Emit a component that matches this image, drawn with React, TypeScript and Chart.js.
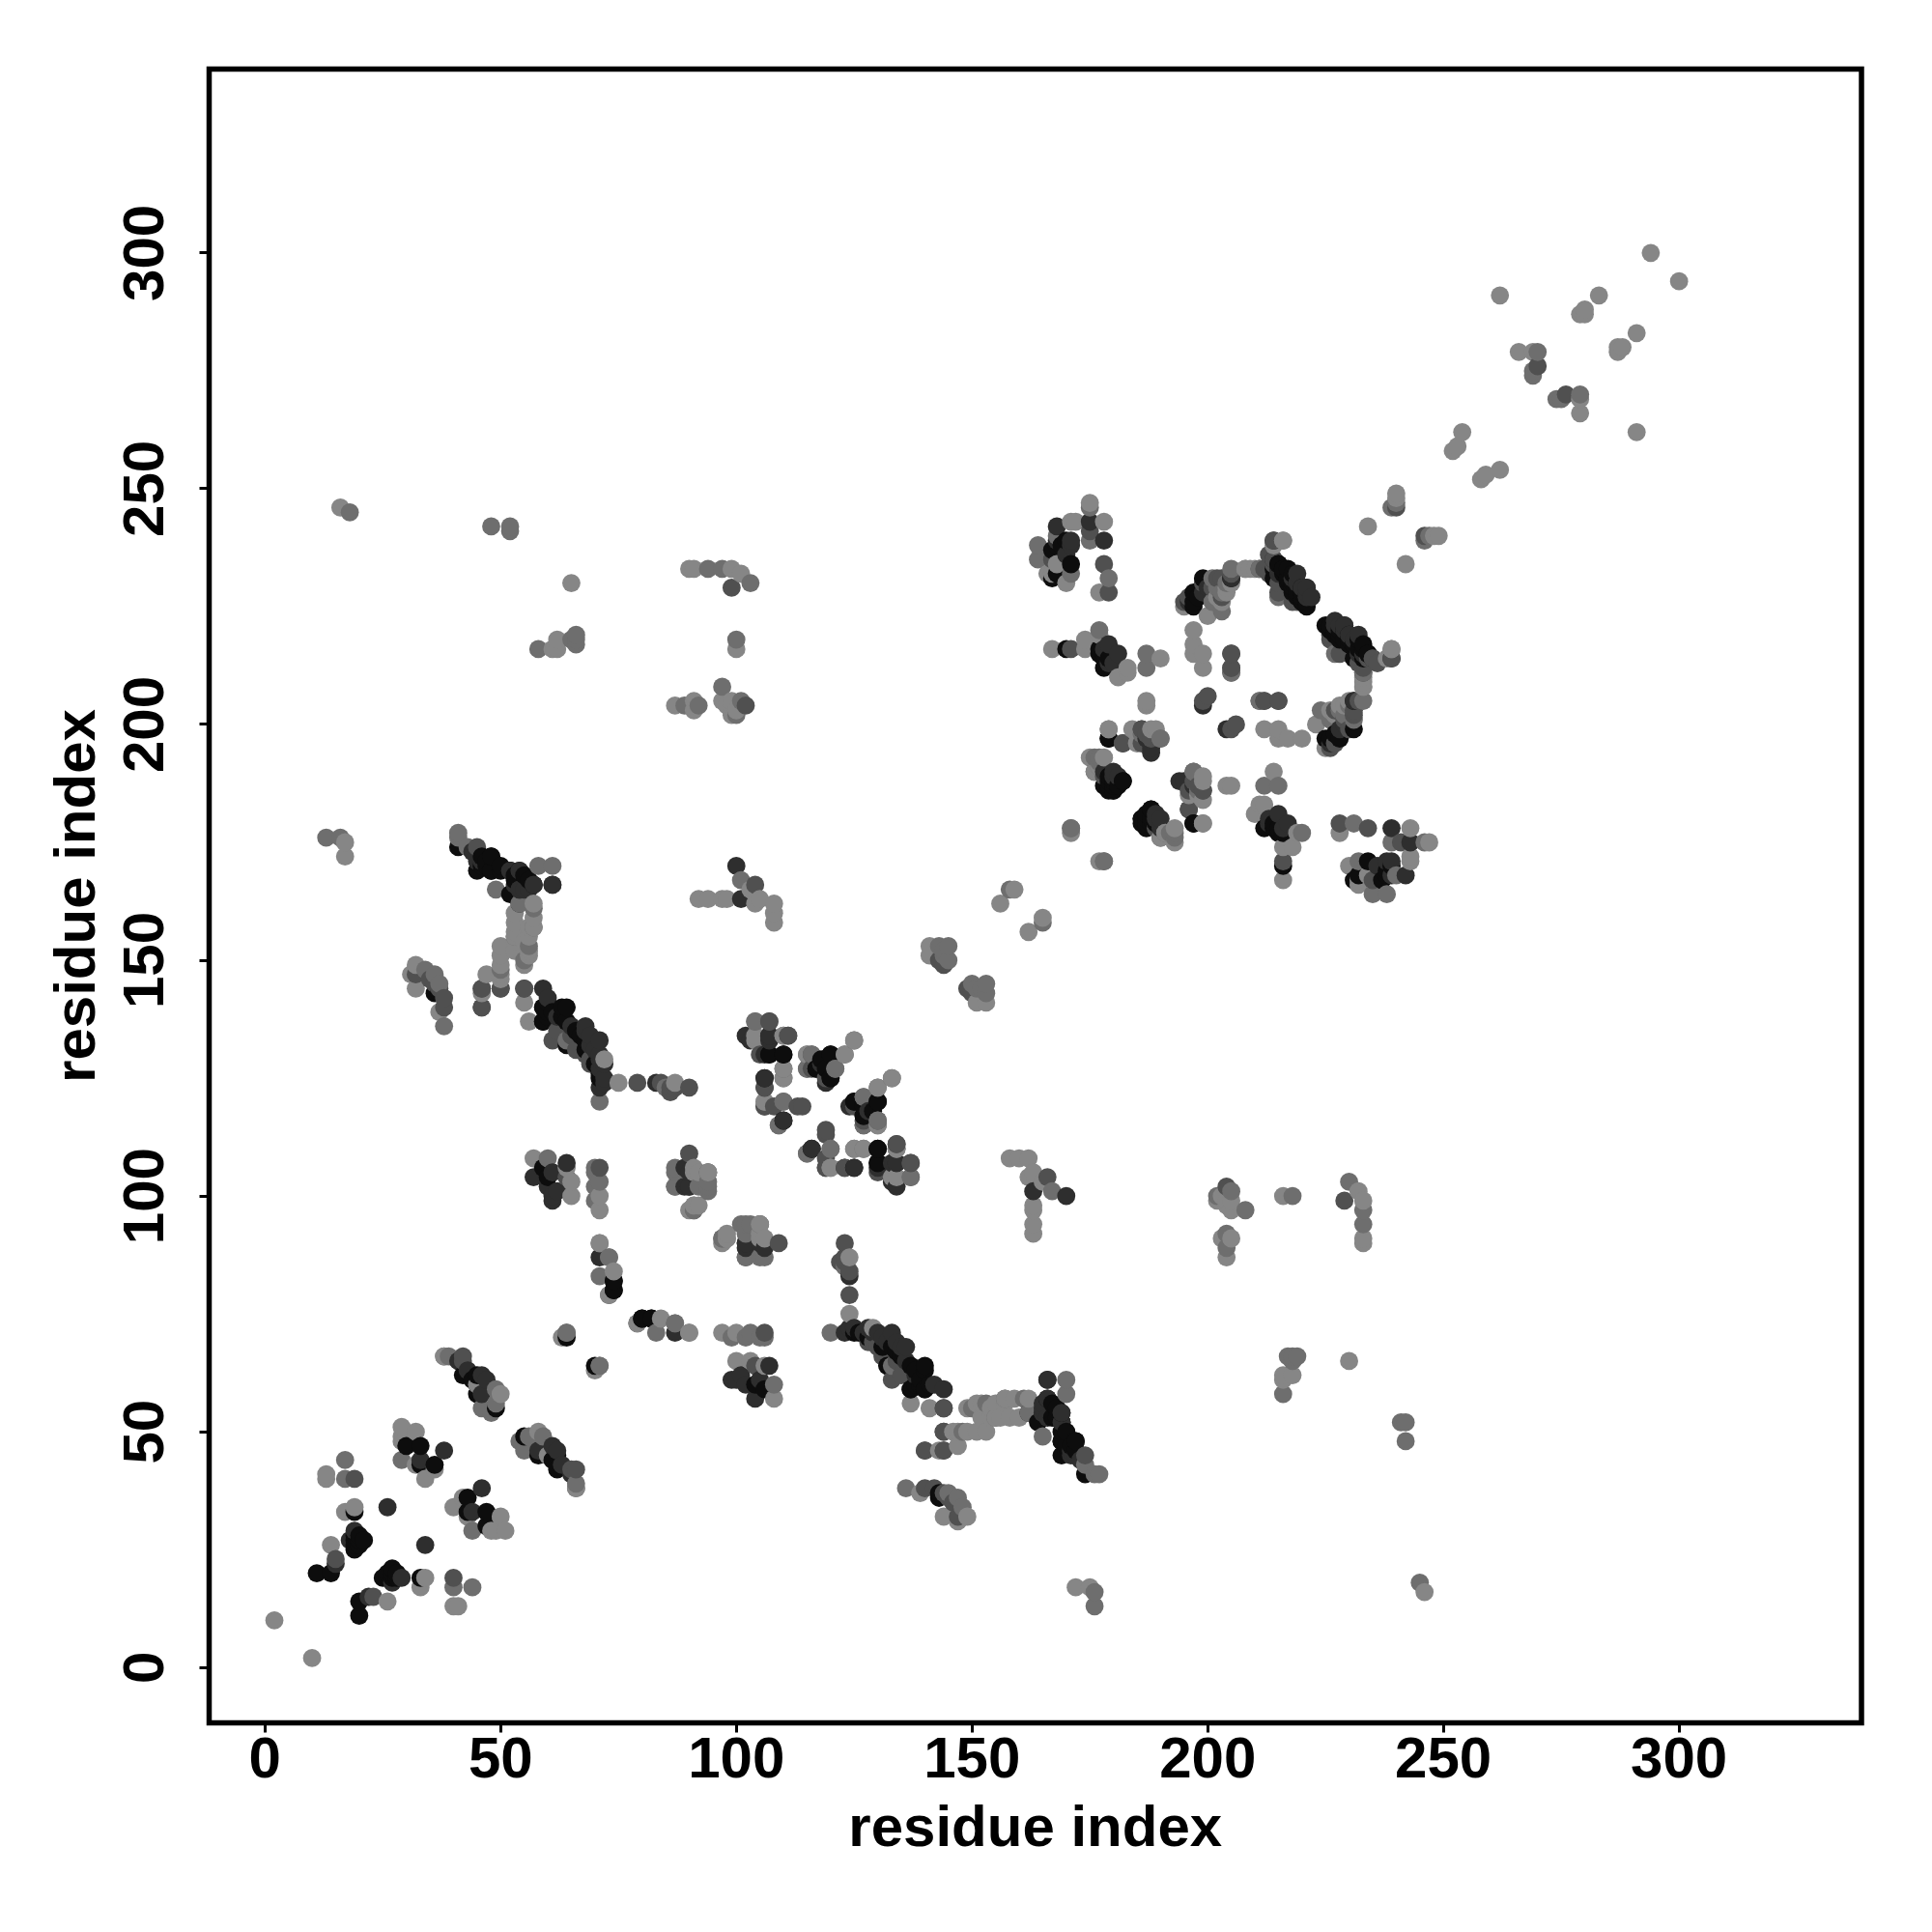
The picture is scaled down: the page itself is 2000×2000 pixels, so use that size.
import React, { useEffect, useRef } from "react";
import { Chart, registerables } from "chart.js";

Chart.register(...registerables);

const tickValues = [0, 50, 100, 150, 200, 250, 300];
const axisTitle = "residue index";

// Contacts between two residues, grouped by the grey level they were drawn in.
const contactsBlack = [
  [20,11],[20,14],[27,21],[26,20],[28,19],[33,19],[43,36],[43,33],[47,33],[47,30],[55,49],[58,45],[62,42],[62,45],[70,64],
  [74,82],[74,80],[80,74],[82,74],[125,71],[133,68],[132,64],[137,64],[140,64],[137,59],[140,59],[166,57],[169,54],[169,52],
  [164,52],[169,48],[172,48],[169,45],[174,41],[143,36],[104,60],[106,59],[107,130],[110,130],[120,130],[117,127],[120,125],
  [130,120],[125,120],[127,119],[127,117],[116,110],[130,110],[130,107],[125,106],[179,197],[188,182],[186,180],[182,188],
  [180,186],[197,179],[212,178],[214,178],[215,177],[216,170],[234,171],[237,167],[238,169],[232,168],[231,167],[225,197],
  [228,197],[231,199],[231,205],[225,221],[226,220],[227,219],[228,218],[230,217],[232,216],[220,226],[215,234],[216,233],
  [217,231],[218,230],[219,228],[220,227],[234,215],[231,214],
  [26,19],[27,20],[28,20],[25,19],[27,19],[126,71],[128,70],[131,68],[134,67],[135,66],[138,63],[139,61],[139,60],[138,60],[141,60],
  [167,56],[168,55],[167,53],[168,53],[170,50],[169,50],[170,47],[170,46],[172,46],[171,47],[187,178],[187,179],[187,180],[188,179],
  [188,180],[189,179],[186,179],[187,181],[226,197],[227,198],[217,233],[218,232],[219,230],[220,229],[221,227],[226,221],[228,220],
  [229,218],[231,217],[233,216],[233,214],[215,178],[214,179],[216,177],[60,45],[61,44],[143,37],[238,168],[239,170],[129,118],
  [172,48],[169,48],[169,52],[140,59],[140,63],[137,59],
];
const contactsDark = [
  [22,15],[27,18],[29,19],[34,26],[46,38],[44,33],[58,46],[62,46],[125,72],[130,71],[133,71],[136,68],[123,71],[124,83],
  [102,90],[105,90],[144,59],[166,61],[165,54],[171,45],[163,101],[170,100],[102,134],[107,134],[106,125],[110,116],[118,128],
  [124,119],[133,107],[134,107],[123,106],[130,106],[133,103],[104,57],[107,64],[100,61],[99,61],[87,71],[188,195],[187,197],
  [180,189],[194,188],[190,178],[215,181],[217,179],[239,178],[243,175],[238,171],[239,171],[242,168],[226,196],[204,199],
  [239,214],[228,221],[230,219],[233,215],[221,229],[205,231],
  [124,72],[127,71],[128,72],[129,71],[131,70],[132,69],[134,69],[135,68],[136,65],[138,62],[142,60],[165,56],[165,55],[166,53],[171,46],
  [172,45],[173,44],[228,199],[229,200],[222,227],[219,232],[221,229],[227,221],[229,220],[231,218],[232,215],[235,214],[213,179],
  [216,178],[213,180],[61,47],[63,43],[65,41],[189,181],[190,180],[101,62],[102,60],[105,61],[239,168],[236,170],
  [106,89],[102,89],[102,90],[166,57],[169,54],[169,52],[165,54],[162,54],[166,61],
];
const contactsMid = [
  [23,15],[40,19],[66,42],[65,42],[79,73],[106,71],[109,90],[123,90],[122,86],[124,79],[129,69],[140,38],[144,37],[147,32],
  [140,46],[144,46],[144,50],[144,55],[133,61],[104,64],[166,104],[119,113],[119,106],[134,111],[137,107],[127,115],[116,130],
  [116,127],[119,125],[107,137],[111,134],[105,130],[106,123],[106,119],[114,119],[108,119],[150,143],[149,144],[178,189],
  [196,182],[182,196],[186,199],[199,186],[190,176],[205,199],[216,171],[228,179],[234,178],[241,175],[235,167],[204,102],
  [229,99],[226,195],[233,212],[231,203],[214,239],[211,233],[203,227],[215,228],[205,215],[205,212],[212,205],[215,205],
  [206,200],[235,214],[246,240],[276,270],[174,45],
  [123,86],[123,87],[124,84],[128,69],[130,68],[131,66],[134,65],[135,62],[142,38],[145,36],[146,35],[229,201],[231,202],[232,205],
  [197,188],[198,187],[196,186],[230,199],[227,196],[219,226],[213,232],[214,234],[226,218],[230,215],[236,213],
  [144,50],[144,46],[144,55],[140,46],
];
const contactsSoft = [
  [44,29],[40,17],[44,17],[54,48],[56,49],[59,49],[55,46],[66,39],[66,38],[64,71],[71,64],[87,73],[83,71],[73,87],[103,71],
  [106,70],[102,87],[123,85],[120,71],[133,64],[136,38],[147,36],[162,54],[161,57],[170,61],[170,58],[165,49],[174,43],
  [176,41],[177,41],[176,16],[176,13],[245,18],[204,92],[233,94],[233,97],[217,66],[218,66],[219,66],[218,65],[216,58],
  [241,52],[242,52],[242,48],[218,100],[230,103],[208,97],[204,89],[167,101],[108,60],[104,137],[102,94],[110,127],[110,125],
  [110,120],[109,115],[115,127],[121,127],[125,133],[123,130],[127,121],[130,116],[130,115],[115,109],[120,110],[134,110],
  [137,104],[153,143],[151,144],[153,145],[150,145],[152,144],[178,171],[171,178],[193,176],[197,190],[190,197],[220,177],
  [231,179],[212,187],[215,187],[233,211],[227,215],[205,233],[205,211],[211,205],[246,239],[247,240],[279,270],[275,269],
  [274,269],[232,171],[240,168],[235,164],[238,164],[246,175],[239,175],[165,158],
  [102,70],[99,70],[105,70],[145,37],[148,34],[192,177],[191,177],[193,177],[198,186],
  [202,100],[205,101],[229,202],[230,204],[231,201],[228,203],[224,203],[226,201],
  [105,94],[102,92],[97,91],[106,87],[105,94],[101,94],[103,94],[97,91],[105,87],[102,87],[157,57],[153,56],[155,53],[150,55],[148,50],
];
const contactsPale = [
  [10,2],[26,14],[34,19],[41,13],[40,13],[33,17],[51,29],[50,32],[40,34],[42,36],[48,29],[49,29],[43,32],[58,50],[60,45],
  [66,38],[90,71],[74,84],[73,79],[71,90],[63,70],[97,71],[100,71],[105,91],[98,91],[100,65],
  [103,65],[106,64],[108,57],[124,87],[124,75],[129,72],[137,56],[141,55],[147,50],[149,50],[151,50],[153,50],[149,55],[152,56],
  [154,55],[155,56],[157,57],[159,57],[158,53],[162,57],[152,53],[155,53],[143,46],
  [147,47],[139,37],[144,32],[149,32],[147,31],[172,17],[175,17],[163,97],[163,94],[163,92],[163,98],[158,108],[160,108],
  [162,108],[163,105],[162,104],[205,99],[204,99],[204,87],[233,91],[233,90],[216,62],[218,62],[216,61],[230,65],[246,16],
  [300,294],[291,283],[287,279],[288,280],[287,280],[291,262],[279,266],[279,269],[262,254],[258,252],[259,253],[249,240],
  [248,240],[242,234],[239,216],[238,214],[233,210],[233,208],[226,203],[227,202],[223,200],[216,239],[209,233],[208,233],
  [212,199],[215,199],[215,197],[217,197],[220,197],[225,195],[205,187],[204,187],[214,190],[210,181],[211,183],[212,183],
  [219,177],[216,174],[218,174],[216,167],[228,177],[230,170],[243,178],[243,171],[243,172],[247,175],[232,166],[234,168],
  [232,167],[193,178],[193,175],[199,189],[199,184],[199,179],[179,199],[188,199],[185,196],[185,198],[176,190],[177,191],
  [162,156],[165,159],[177,171],[151,141],[153,141],[110,134],[104,134],[106,120],[115,130],[125,110],[127,110],
  [133,125],[130,123],[120,106],[133,104],[233,99],[232,101],[216,100],[203,91],[205,91],[205,97],[165,103],
  [106,91],[105,92],[105,94],[98,92],[97,90],[98,91],[156,53],[160,53],[157,56],[154,53],[146,50],[151,56],
  [202,99],[203,100],[204,98],[228,204],[229,204],[230,205],
];

const shades: [number[][], string][] = [
  [contactsBlack, "#0d0d0d"],
  [contactsDark, "#2e2e2e"],
  [contactsMid, "#505050"],
  [contactsSoft, "#6e6e6e"],
  [contactsPale, "#868686"],
];

export default function App() {
  const ref = useRef<HTMLCanvasElement | null>(null);
  useEffect(() => {
    const marks: { x: number; y: number; c: string }[] = [];
    shades.forEach(([list, c]) => {
      list.forEach(([a, b]) => {
        marks.push({ x: a, y: b, c });
        marks.push({ x: b, y: a, c });
      });
    });
    marks.sort((p, q) => p.x - q.x || p.y - q.y);

    const setTicks = (s: any) => {
      s.ticks = tickValues.map((value) => ({ value }));
    };
    const frame = {
      id: "frame",
      afterDatasetsDraw(c: any) {
        const a = c.chartArea;
        const g = c.ctx;
        g.save();
        g.strokeStyle = "#000";
        g.lineWidth = 5.5;
        g.strokeRect(a.left, a.top, a.right - a.left, a.bottom - a.top);
        g.restore();
      },
    };
    const font = { family: "'Liberation Sans'", size: 60, weight: "bold" as const };
    const chart = new Chart(ref.current as HTMLCanvasElement, {
      type: "scatter",
      data: {
        datasets: [
          {
            data: marks.map((m) => ({ x: m.x, y: m.y })),
            pointRadius: 9.4,
            pointBorderWidth: 0,
            pointBackgroundColor: marks.map((m) => m.c),
            showLine: false,
          },
        ],
      },
      options: {
        animation: false,
        responsive: false,
        devicePixelRatio: 1,
        layout: { padding: { left: 0, top: 71.5, right: 73, bottom: 0 } },
        plugins: { legend: { display: false }, tooltip: { enabled: false } },
        scales: {
          x: {
            type: "linear",
            min: -11.84,
            max: 338.7,
            afterBuildTicks: setTicks,
            afterFit: (s: any) => {
              s.height = 216.5;
            },
            border: { display: false },
            grid: { display: true, drawOnChartArea: false, drawTicks: true, tickLength: 10, lineWidth: 3, color: "#000" },
            ticks: { color: "#000", font, padding: -6, maxRotation: 0, minRotation: 0, autoSkip: false },
            title: { display: true, text: axisTitle, color: "#000", font, padding: { top: 0, bottom: 70 } },
          },
          y: {
            type: "linear",
            min: -11.74,
            max: 339,
            afterBuildTicks: setTicks,
            afterFit: (s: any) => {
              s.width = 216.5;
            },
            border: { display: false },
            grid: { display: true, drawOnChartArea: false, drawTicks: true, tickLength: 10, lineWidth: 3, color: "#000" },
            ticks: { color: "#000", font, padding: 4, minRotation: 90, maxRotation: 90, crossAlign: "center", autoSkip: false },
            title: { display: true, text: axisTitle, color: "#000", font, padding: { top: 45, bottom: 0 } },
          },
        },
      },
      plugins: [frame],
    } as any);
    return () => chart.destroy();
  }, []);
  return (
    <div style={{ position: "absolute", left: 0, top: 0, width: 2000, height: 2000, background: "#fff" }}>
      <canvas ref={ref} width={2000} height={2000} style={{ display: "block" }} />
    </div>
  );
}
